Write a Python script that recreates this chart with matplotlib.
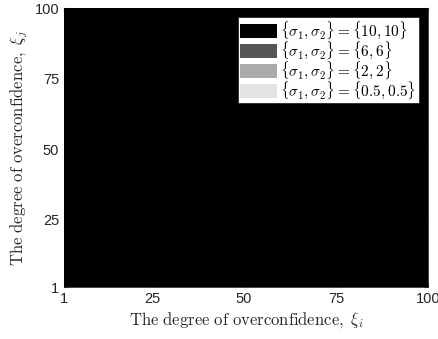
import numpy as np
import matplotlib
matplotlib.use('Agg')
from matplotlib import pyplot as plt

plt.rcParams['mathtext.fontset'] = 'cm'
plt.rcParams['font.family'] = ['Liberation Sans', 'DejaVu Sans']

# feasible regions (xi_i range, lower/upper xi_j bounds) for each sigma pair
xi = [1, 100]
labels = [r'$\{\sigma_1,\sigma_2\}=\{10,10\}$',
          r'$\{\sigma_1,\sigma_2\}=\{6,6\}$',
          r'$\{\sigma_1,\sigma_2\}=\{2,2\}$',
          r'$\{\sigma_1,\sigma_2\}=\{0.5,0.5\}$']
lower = [[1, 1], [1, 1], [1, 1], [1, 1]]
upper = [[100, 100], [100, 100], [100, 100], [100, 100]]
colors = ['#000000', '#555555', '#aaaaaa', '#e3e3e3']
ticks = [1, 25, 50, 75, 100]

fig = plt.figure(figsize=(4.38, 3.39), dpi=100)
ax = fig.add_axes([0.146, 0.153, 0.831, 0.823])

# lightest first so black ends up on top
for i in reversed(range(len(labels))):
    ax.fill_between(xi, lower[i], upper[i], color=colors[i], label=labels[i],
                    linewidth=0, zorder=2 + (3 - i))

ax.set_xlim(1, 100)
ax.set_ylim(1, 100)
ax.set_xticks(ticks)
ax.set_yticks(ticks)
ax.tick_params(direction='in', length=3, labelsize=10.5, colors='#262626',
               labelcolor='#262626', top=True, right=True)
for s in ax.spines.values():
    s.set_color('#262626')
    s.set_linewidth(0.6)

ax.set_xlabel(r'$\mathrm{The\ degree\ of\ overconfidence},\ \xi_i$',
              fontsize=12, color='#262626', labelpad=3)
ax.set_ylabel(r'$\mathrm{The\ degree\ of\ overconfidence},\ \xi_j$',
              fontsize=12, color='#262626', labelpad=3)

h, l = ax.get_legend_handles_labels()
leg = ax.legend(h[::-1], l[::-1], loc='upper right', fontsize=11,
                frameon=True, fancybox=False, framealpha=1,
                edgecolor='#262626', handlelength=2.4, handleheight=1.05,
                handletextpad=0.25, labelspacing=-0.12, borderpad=0.15,
                borderaxespad=0.6)
leg.get_frame().set_linewidth(0.6)

plt.savefig('out.png', dpi=100)
